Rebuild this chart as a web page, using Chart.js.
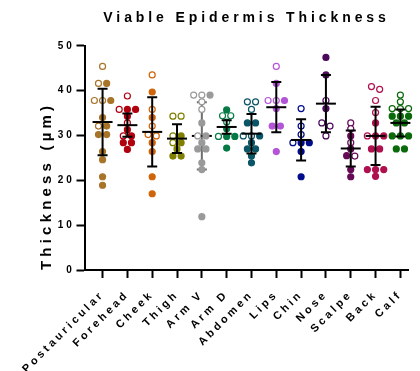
<!DOCTYPE html>
<html>
<head>
<meta charset="utf-8">
<title>Viable Epidermis Thickness</title>
<script src="https://cdn.jsdelivr.net/npm/chart.js@4"></script>
<style>
  body { margin: 0; background: #fff; }
</style>
</head>
<body>
<canvas id="thickChart" width="420" height="371"></canvas>
<script>
// body sites, one column each
const sites = ['Postauricular', 'Forehead', 'Cheek', 'Thigh', 'Arm V', 'Arm D', 'Abdomen',
               'Lips', 'Chin', 'Nose', 'Scalpe', 'Back', 'Calf'];
const siteColours = ['#a87428', '#b0000e', '#d06408', '#7f8000', '#9a9a9a', '#057a45', '#0a5666',
                     '#b455d8', '#000c8c', '#4d0a5c', '#660a56', '#b0104e', '#0a6a0a'];

// thickness (µm), solid dots
const solidVals = [
  [41.6, 37.8, 34.0, 32.1, 30.2, 30.2, 26.4, 24.6, 20.8, 18.9],
  [35.8, 35.8, 34.3, 31.3, 29.9, 28.4, 28.4, 26.9],
  [39.7, 34.0, 28.4, 26.4, 20.8, 17.0],
  [29.9, 28.4, 27.0, 25.4, 25.4],
  [39.0, 32.8, 29.9, 28.4, 27.0, 27.0, 23.9, 22.4, 11.9],
  [35.7, 31.5, 29.8, 29.8, 27.2],
  [32.8, 32.8, 29.9, 28.4, 27.0, 27.0, 25.4, 23.9],
  [41.6, 37.8, 36.0, 32.1, 32.1, 26.4],
  [28.4, 28.4, 26.4, 20.8],
  [47.4, 43.5, 36.0],
  [29.9, 27.0, 25.5, 22.4, 20.8],
  [32.8, 29.9, 29.9, 27.0, 27.0, 22.4, 22.4, 22.4, 20.9],
  [34.3, 34.3, 34.3, 32.8, 32.8, 29.9, 29.9, 29.9, 27.0, 27.0]
];
// thickness (µm), open dots
const openVals = [
  [45.4, 41.6, 37.8, 37.8, 32.1],
  [38.8, 35.8, 32.8, 29.9],
  [43.5, 35.8, 32.1, 30.2, 29.9],
  [34.3, 34.3, 29.9, 28.4],
  [39.0, 39.0, 37.5, 35.8, 29.9],
  [34.4, 34.4, 33.0, 29.8],
  [37.5, 37.5, 35.8, 29.9, 29.9],
  [45.4, 37.8, 37.8],
  [36.0, 32.1, 30.2, 28.4],
  [37.8, 32.8, 32.1, 29.9],
  [32.8, 31.5, 28.4, 25.4],
  [40.9, 40.3, 37.8, 35.1, 29.9],
  [39.0, 37.5, 36.0, 36.0, 36.0]
];
// mean and SD per site
const meanVals = [33.0, 32.3, 30.8, 29.3, 29.9, 31.9, 30.4, 36.3, 29.0, 37.1, 27.1, 29.9, 32.8];
const sdVals   = [7.4, 2.6, 7.7, 3.2, 7.5, 1.5, 4.4, 5.6, 4.6, 6.4, 4.0, 6.5, 3.0];
const yTicks = [0, 10, 20, 30, 40, 50];

const FONT = "'Liberation Sans', Arial, sans-serif";

// lay out one column: values that share a row are spread side by side
function spreadColumn(idx) {
  const pts = openVals[idx].map(v => ({ v, open: true }))
    .concat(solidVals[idx].map(v => ({ v, open: false })))
    .sort((a, b) => b.v - a.v);
  const rows = [];
  pts.forEach(p => {
    const row = rows[rows.length - 1];
    if (row && row[0].v - p.v < 1.0) row.push(p);
    else rows.push([p]);
  });
  const out = [];
  rows.forEach(row => row.forEach((p, k) => {
    out.push({ x: idx + (k - (row.length - 1) / 2) * 0.33, y: p.v, open: p.open });
  }));
  return out;
}

const datasets = sites.map((name, i) => {
  const pts = spreadColumn(i);
  return {
    label: name,
    data: pts.map(p => ({ x: p.x, y: p.y })),
    pointRadius: 3,
    pointBorderWidth: 1.2,
    borderColor: siteColours[i],
    pointBackgroundColor: pts.map(p => p.open ? '#fff' : siteColours[i]),
    showLine: false
  };
});

// spaced lettering, spacing grows with the font size
const spacedText = {
  id: 'spacedText',
  beforeInit(chart) {
    const ctx = chart.ctx;
    const fill = ctx.fillText.bind(ctx);
    const measure = ctx.measureText.bind(ctx);
    const setSpacing = () => {
      const m = ctx.font.match(/([\d.]+)px/);
      ctx.letterSpacing = m ? (parseFloat(m[1]) * 0.28).toFixed(1) + 'px' : '0px';
    };
    ctx.fillText = (...args) => { setSpacing(); fill(...args); };
    ctx.measureText = (t) => { setSpacing(); return measure(t); };
  }
};

// mean line with SD whiskers
function drawBar(chart, i, colour) {
  const { ctx, scales: { x, y } } = chart;
  const cx = x.getPixelForValue(i);
  const top = y.getPixelForValue(meanVals[i] + sdVals[i]);
  const bot = y.getPixelForValue(meanVals[i] - sdVals[i]);
  const mid = y.getPixelForValue(meanVals[i]);
  ctx.save();
  ctx.lineWidth = 2;
  ctx.strokeStyle = colour;
  ctx.beginPath();
  ctx.moveTo(cx, top); ctx.lineTo(cx, bot);
  ctx.moveTo(cx - 5, top); ctx.lineTo(cx + 5, top);
  ctx.moveTo(cx - 5, bot); ctx.lineTo(cx + 5, bot);
  ctx.stroke();
  ctx.strokeStyle = '#000';
  ctx.beginPath();
  ctx.moveTo(cx - 10, mid); ctx.lineTo(cx + 10, mid);
  ctx.stroke();
  ctx.restore();
}

const errorBars = {
  id: 'errorBars',
  beforeDatasetsDraw(chart) {
    drawBar(chart, 4, '#6e6e6e'); // Arm V sits behind its dots
  },
  afterDatasetsDraw(chart) {
    sites.forEach((_, i) => { if (i !== 4) drawBar(chart, i, '#000'); });
  }
};

Chart.defaults.color = '#000';
Chart.defaults.font.family = FONT;

new Chart(document.getElementById('thickChart'), {
  type: 'scatter',
  data: { datasets },
  plugins: [spacedText, errorBars],
  options: {
    responsive: false,
    animation: false,
    clip: false,
    layout: { padding: { right: 10 } },
    plugins: {
      legend: { display: false },
      tooltip: { enabled: false },
      title: {
        display: true,
        text: 'Viable Epidermis Thickness',
        fullSize: false,
        font: { size: 14, weight: 'bold' },
        padding: { top: 10, bottom: 19 }
      }
    },
    scales: {
      x: {
        type: 'linear',
        min: -0.728,
        max: 12.33,
        afterBuildTicks: s => { s.ticks = sites.map((_, i) => ({ value: i })); },
        afterFit: s => { s.height = 101; },
        ticks: {
          autoSkip: false,
          minRotation: 45,
          maxRotation: 45,
          padding: 10,
          font: { size: 11, weight: 'bold' },
          callback: v => sites[v]
        },
        grid: { drawOnChartArea: false, tickLength: 8, tickColor: '#000', tickWidth: 2 },
        border: { display: true, color: '#000', width: 2 }
      },
      y: {
        min: 0,
        max: 50,
        afterBuildTicks: s => { s.ticks = yTicks.map(v => ({ value: v })); },
        afterFit: s => { s.width = 84.5; },
        ticks: { padding: 2, font: { size: 10, weight: 'bold' } },
        grid: { drawOnChartArea: false, tickLength: 8, tickColor: '#000', tickWidth: 2 },
        border: { display: true, color: '#000', width: 2 },
        title: {
          display: true,
          text: 'Thickness (µm)',
          align: 'start',
          font: { size: 15, weight: 'bold' },
          padding: { top: 38, bottom: 0 }
        }
      }
    }
  }
});
</script>
</body>
</html>
